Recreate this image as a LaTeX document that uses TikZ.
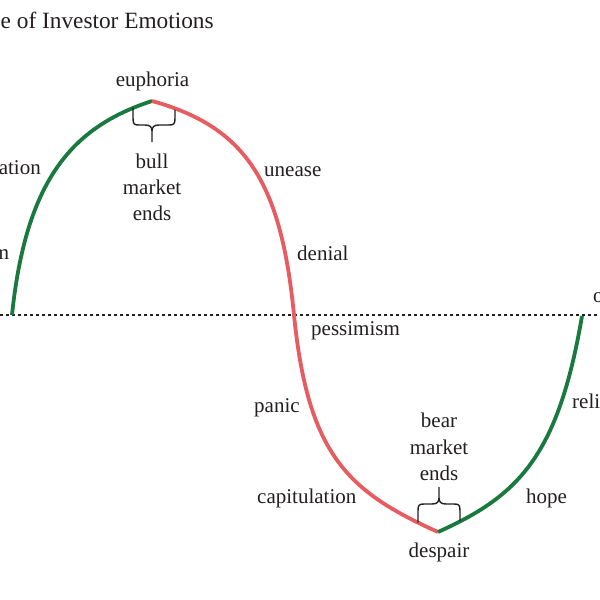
\documentclass[tikz,border=0pt]{standalone}
\usepackage{fontspec}
\setmainfont{Liberation Serif}
\definecolor{upgreen}{RGB}{26,121,62}
\definecolor{downred}{RGB}{231,92,96}
\definecolor{ink}{RGB}{35,31,32}
\begin{document}
\begin{tikzpicture}[x=1pt,y=-1pt,
  lbl/.style={inner sep=0pt, text=ink, font=\fontsize{21}{25}\selectfont},
  ttl/.style={inner sep=0pt, text=ink, font=\fontsize{23.3}{28}\selectfont},
  rise/.style={draw=upgreen, line width=3.8pt},
  fall/.style={draw=downred, line width=3.8pt},
  brace/.style={draw=ink, line width=1.4pt},
  axisline/.style={draw=ink, line width=1.4pt, dash pattern=on 3pt off 3pt}]
\useasboundingbox (0,0) rectangle (600,600);
\fill[white] (0,0) rectangle (600,600);

% axis
\coordinate (axL) at (0,315);
\coordinate (axR) at (600,315);
\draw[axisline] (axL) -- (axR);

% curve key points
\coordinate (s0) at (12,315);
\coordinate (peak) at (152,101);
\coordinate (mid) at (294,315);
\coordinate (trough) at (438,532);
\coordinate (s1) at (582,316);

\draw[rise] (s0) .. controls (26,180) and (72,127) .. (peak);
\draw[fall] (peak) .. controls (246,127) and (281,182) .. (mid)
  .. controls (308,455) and (348,491.5) .. (trough);
\draw[rise] (trough) .. controls (518,496) and (558,457) .. (s1);

% top brace
\coordinate (bL) at (133,107.5);
\coordinate (bR) at (175,109.5);
\coordinate (bS) at (152,142);
\draw[brace] (bL) -- (133,118) .. controls (133,124) and (134,125) .. (139,125) -- (145,125)
  .. controls (150,125) and (152,127) .. (152,131) -- (bS);
\draw[brace] (bR) -- (175,118) .. controls (175,124) and (174,125) .. (169,125) -- (159,125)
  .. controls (154,125) and (152,127) .. (152,131);

% bottom brace
\coordinate (cL) at (418,522.5);
\coordinate (cR) at (460,521);
\coordinate (cS) at (439,487);
\draw[brace] (cL) -- (418,511) .. controls (418,505) and (419,504) .. (424,504) -- (432,504)
  .. controls (437,504) and (439,502) .. (439,498) -- (cS);
\draw[brace] (cR) -- (460,511) .. controls (460,505) and (459,504) .. (454,504) -- (446,504)
  .. controls (441,504) and (439,502) .. (439,498);

% labels
\node[ttl, anchor=base west] (title) at (0.5,28) {e of Investor Emotions};
\node[lbl, anchor=base] (euphoria) at (152.5,86.5) {euphoria};
\node[lbl, anchor=base east] (ation) at (41,174) {ation};
\node[lbl, anchor=base east] (mlbl) at (9.5,259) {m};
\node[lbl, anchor=base] (bull) at (152,168) {bull};
\node[lbl, anchor=base] (market1) at (152,194) {market};
\node[lbl, anchor=base] (ends1) at (152,220) {ends};
\node[lbl, anchor=base west] (unease) at (264,176) {unease};
\node[lbl, anchor=base west] (denial) at (297,260) {denial};
\node[lbl, anchor=base west] (pessimism) at (311,335) {pessimism};
\node[lbl, anchor=base west] (olbl) at (593,302) {o};
\node[lbl, anchor=base west] (reli) at (572,408) {reli};
\node[lbl, anchor=base west] (panic) at (254,412) {panic};
\node[lbl, anchor=base] (bear) at (439,427) {bear};
\node[lbl, anchor=base] (market2) at (439,454) {market};
\node[lbl, anchor=base] (ends2) at (439,480) {ends};
\node[lbl, anchor=base west] (capitulation) at (257,503) {capitulation};
\node[lbl, anchor=base west] (hope) at (526,503) {hope};
\node[lbl, anchor=base] (despair) at (439,557) {despair};
\end{tikzpicture}
\end{document}
